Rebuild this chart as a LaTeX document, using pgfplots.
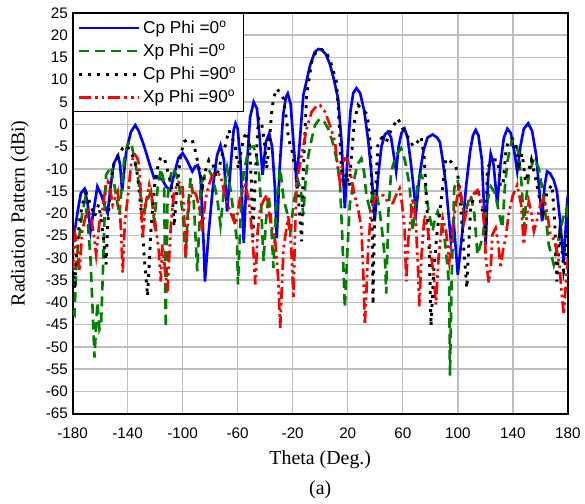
\documentclass[border=0pt]{standalone}
\usepackage{fontspec}
\setmainfont{Liberation Serif}
\newfontfamily\arial{Liberation Sans}
\usepackage{pgfplots}
\pgfplotsset{compat=1.18}
\definecolor{xgreen}{RGB}{0,128,0}
\begin{document}
\begin{tikzpicture}
\begin{axis}[
  name=ax,
  scale only axis,
  width=373.5pt, height=302.25pt,
  xmin=-180, xmax=180, ymin=-65, ymax=25,
  xtick={-180,-140,...,180},
  ytick={-65,-60,...,25},
  grid=major,
  major grid style={color=black!25, line width=1.1pt},
  tick style={draw=none},
  axis line style={line width=1.6pt},
  ticklabel style={font=\arial\fontsize{11.5}{12}\selectfont},
  xticklabel style={yshift=-7pt},
  /pgf/number format/assume math mode=true,
  xlabel={Theta (Deg.)},
  ylabel={Radiation Pattern (dBi)},
  label style={font=\fontsize{15}{16}\selectfont},
  xlabel style={at={(axis description cs:0.5,-0.116)}, anchor=center},
  ylabel style={at={(axis description cs:-0.1064,0.5)}, anchor=center},
  legend style={at={(0,1)}, anchor=north west, draw=black, line width=0.9pt,
    font=\arial\fontsize{13}{14}\selectfont, cells={anchor=west},
    row sep=2.5pt, inner sep=3.5pt},
  legend image code/.code={\draw[#1] (0pt,0pt) -- (45pt,0pt);},
  extra description/.code={\node[font=\fontsize{15}{16}\selectfont] at (0.5,-0.19) {(a)};},
]
% Cp Phi = 0
\addplot[blue, line width=2pt] coordinates {
(-180,-27) (-178.5,-24) (-176,-19) (-174,-15.5) (-171.3,-14.5) (-169,-18) (-167,-24)
(-165,-20) (-162,-14) (-159,-16) (-157,-18) (-154.5,-20) (-152,-13) (-150,-8.8)
(-147,-7) (-145.5,-9) (-144,-15) (-141,-6) (-137.6,-1.7) (-134.4,-0.2) (-132,-1.5)
(-129,-4) (-126.7,-6.2) (-124,-9) (-120.7,-12.1) (-117,-12) (-114.7,-12.5) (-112,-14)
(-109,-14.8) (-106,-11) (-103,-7.5) (-100,-6.5) (-97,-8) (-93,-10.6) (-91,-9.5)
(-89,-9.2) (-87,-12) (-85,-25) (-83.8,-35.3) (-81,-24) (-78,-14) (-75,-7) (-72.5,-4.7)
(-70,-8) (-67.7,-19.6) (-65,-9) (-63,-1.5) (-61.6,0.2) (-60,-1) (-58,-8) (-55.6,-26.7)
(-53,-8) (-51,1.5) (-48.4,5.0) (-46,3.5) (-44,-3) (-41.9,-11.4) (-39.5,-4) (-37.1,-2.1)
(-35,-5) (-33,-14) (-31.6,-25.6) (-29.5,-10) (-27,2) (-25,6) (-23.6,6.9) (-21.5,4.5)
(-19.5,-4) (-17.5,-11.8) (-16,-8.4) (-12.3,6.5) (-7.4,13.2) (-4,16.2) (-1.4,16.9)
(1,16.7) (4,15.8) (7,13.5) (10,10) (13,5.7) (15.5,-4) (17.9,-18.9) (20,-6) (22,3)
(24,7) (26.3,8.1) (29,7) (32,3) (35,-4) (37.5,-12) (39.6,-21.8) (42,-12) (44.5,-5)
(47,-2.3) (49.2,-1.7) (51.5,-3) (53.5,-7) (55.2,-10.6) (57,-5) (59,-2) (61.3,-1.0)
(63.5,-3) (66,-9) (69.7,-19.6) (72,-12) (75,-6) (78,-3) (81.7,-2.3) (85,-3) (87,-4)
(89,-8) (91.5,-14) (95,-26.3) (97,-22) (100,-33.8) (103,-25) (106,-14) (109,-6)
(111,-2.5) (113,-1.3) (115,-2.5) (117.5,-8) (120.3,-27) (122,-12) (123.9,-6.6)
(126,-9) (128.7,-18) (131,-9) (133.5,-3) (136,-1.0) (138.5,-2) (141,-6) (143.2,-10.6)
(145.5,-5) (148,-1) (151.2,0.2) (154,-1.5) (157,-7) (159,-14) (161.3,-21.8) (163,-14)
(164.9,-10.6) (167,-11) (169.7,-12.5) (172,-15) (174.5,-22) (177,-31.2) (179.4,-18)
(180,-16)
};
% Xp Phi = 0
\addplot[xgreen, line width=2pt, dash pattern=on 7.5pt off 4.5pt] coordinates {
(-180,-42) (-178.6,-42.7) (-177,-30) (-175,-24.8) (-173,-20) (-171,-17) (-169,-22)
(-167,-30) (-165.3,-42.7) (-164.1,-52.4) (-162,-40) (-160.5,-46) (-159.3,-45)
(-158.1,-34.5) (-156.5,-18) (-155.7,-11.4) (-152,-9.5) (-148.4,-15.9) (-146,-20.4)
(-144,-13) (-142.4,-7.7) (-140,-4.5) (-137.6,-3.9) (-135.5,-7) (-133,-11) (-130.3,-16.6)
(-127.9,-19.6) (-125.5,-17) (-123.1,-15.1) (-120.7,-21.8) (-118,-14) (-115.9,-9.9)
(-113.5,-13) (-112.3,-45.7) (-111,-16.6) (-109,-12) (-107.5,-9.9) (-105,-11)
(-102.6,-13.6) (-100,-20) (-97.8,-30) (-96,-18) (-94.2,-12.1) (-92,-17) (-89.4,-33)
(-87.5,-20) (-86.9,-13.6) (-84,-11.5) (-80.9,-10.3) (-78,-12) (-74.9,-16.6)
(-72.5,-22.6) (-70,-15) (-67.7,-9.9) (-65.5,-14) (-63,-20) (-60.5,-26.3) (-59.8,-36)
(-57.5,-18) (-55.6,-10.6) (-53,-7) (-50.8,-5.1) (-48.5,-5) (-46.5,-7) (-44.8,-9.9)
(-43,-18) (-41.2,-30.8) (-39.5,-22) (-37.6,-15.9) (-36,-20) (-34,-32.3) (-32,-18)
(-29.1,-9.9) (-26.7,-16.6) (-24,-20) (-21.9,-24.8) (-19,-17) (-15.9,-12.9) (-14,-15)
(-12.3,-20.4) (-10.5,-12) (-8.6,-6.9) (-6,-3) (-3.8,-0.2) (-0.2,1.3) (3,0.5) (5.8,-1)
(9,-4) (11.8,-7.7) (14.3,-12.9) (16,-25) (17.9,-41.2) (19.5,-30) (21.5,-18)
(23.9,-13.6) (27,-9) (29.9,-7.7) (32,-11) (33.5,-15.9) (35.9,-18.9) (38,-16)
(40.8,-15.1) (43,-19) (45,-24) (47,-30) (48,-38) (49.5,-20) (51.6,-10.6) (55,-7)
(58.8,-5.4) (61.5,-8) (64.9,-13.6) (67.3,-24) (69,-18) (71,-13) (73.3,-11.4) (76,-13)
(78.5,-19) (81.7,-24) (83.5,-21) (85.4,-19.6) (88,-22) (90.5,-26) (92.5,-32)
(93.8,-36.8) (94.3,-56.5) (95.5,-35) (97.4,-14.4) (99.8,-12.5) (102,-16) (104.7,-21.1)
(107,-18) (109.4,-15.9) (112,-20) (114.3,-29.3) (117.9,-25.6) (121.5,-17.4) (124,-14)
(126.4,-15.1) (127.5,-15.9) (130,-20) (132.4,-23.3) (134,-15) (136,-8.4) (139.6,-3.2)
(142,-4) (144.4,-6.9) (146.5,-14) (148,-23.3) (150,-16) (151.6,-11.4) (155.3,-7.7)
(158.9,-9.9) (162.5,-16.6) (166.1,-27) (169.7,-31.5) (173.4,-25.6) (177,-20.4)
(179,-19) (180,-21)
};
% Cp Phi = 90
\addplot[black, line width=2.2pt, dash pattern=on 2.2pt off 4.6pt] coordinates {
(-180,-30) (-178.5,-37) (-177,-28) (-175,-22) (-173,-18) (-170,-15.5) (-167,-18)
(-164,-20.7) (-161,-18) (-159,-22) (-157,-27) (-155.7,-31.5) (-154.5,-22.6) (-152,-12.1)
(-150,-9) (-147,-7) (-143.6,-5.4) (-141,-4.7) (-138,-6) (-135,-8) (-132.8,-11.4)
(-130,-20) (-127.9,-30) (-125.5,-38.6) (-123.1,-24) (-120.5,-14) (-118.3,-9.9)
(-115.9,-7.3) (-113,-8) (-110.5,-11) (-108,-14) (-106.2,-23) (-104,-14) (-101.5,-7)
(-99,-3.9) (-96,-3.4) (-93,-3.6) (-90.6,-6.2) (-88,-10) (-85.5,-14) (-83,-10)
(-80.9,-8) (-78,-9) (-75.5,-12) (-73,-9) (-70.5,-6) (-68.9,-4.7) (-66.5,-1.3) (-64,-3)
(-61.6,-5.4) (-59.5,-10) (-57.5,-6) (-55.5,-3) (-53.2,-1.7) (-51.5,-4.5) (-50,-13)
(-49,-26) (-47.5,-14) (-46,-4) (-44.8,1.3) (-42.5,0) (-40.5,-4) (-39,-10) (-37.5,-6)
(-35.5,2) (-34,5.7) (-31.6,8.0) (-29,7) (-26.7,5.7) (-24.5,1) (-23.1,-3.2) (-20.5,-6)
(-18.3,-9.9) (-16,-16) (-13.5,-26.3) (-12.3,-10.6) (-9.9,6.5) (-6.2,14) (-2.6,16.6)
(1,16.8) (4.6,16.2) (8,13.5) (11.8,9.5) (13.5,2) (15.4,-9.9) (17,-14) (19,-11) (21,-14)
(23,-6) (25,1) (27.5,4.3) (30,3.5) (33.5,2.4) (34.8,0.5) (36.5,-5) (37.5,-15)
(38.4,-40.5) (39.5,-20) (42,-3.9) (45,-3) (48,-4) (50.5,-2) (52.8,-0.6) (56.4,1.3)
(60,-1) (62.5,-2.5) (64.9,-3.2) (67.5,-5) (70.9,-3.9) (73.3,-2.8) (75.5,-7) (77.5,-18)
(79.4,-29.3) (80.5,-45.3) (82.5,-33) (85,-24) (87.8,-17.4) (91.4,-7.7) (95,-8.4)
(97.5,-9) (99.8,-10.6) (102,-18) (104.7,-29.3) (106.6,-36.8) (108,-27) (109.4,-18.9)
(112,-16) (114.3,-14.4) (117,-18) (120.3,-23.3) (121.5,-9.9) (124,-8.5) (126.4,-8)
(129,-8) (131,-14) (133,-13) (135,-6) (137,-3.5) (139.6,-3.2) (142,-5) (144.5,-9)
(146.8,-6.6) (149.2,-12.9) (151,-11) (153.5,-8) (156.5,-12.1) (159,-16) (162,-20)
(165,-15) (168.5,-13.6) (170.5,-22) (172,-35.3) (174,-25) (176,-29) (177,-33)
(179,-30) (180,-24)
};
% Xp Phi = 90
\addplot[red, line width=2pt, dash pattern=on 9pt off 3pt on 2pt off 3pt on 2pt off 3pt] coordinates {
(-180,-33) (-178,-25) (-176.2,-28.5) (-175,-33) (-173,-24) (-170.1,-20) (-168,-19)
(-166.5,-21.1) (-164.5,-25) (-162.9,-29.3) (-160.5,-22) (-158.1,-18.9) (-156,-14)
(-154.5,-12.9) (-152.5,-15) (-150.9,-18.1) (-147.2,-15.1) (-145.5,-20) (-144.8,-24)
(-143.6,-33.4) (-142,-22) (-140,-16.6) (-137.5,-9) (-135.2,-6.6) (-133,-7.5)
(-131.6,-9.2) (-130.3,-16.6) (-129.2,-25.6) (-127,-18) (-124.3,-13.6) (-122,-17)
(-119.5,-23.3) (-117.5,-28) (-115.9,-35.3) (-114.7,-27) (-113,-32) (-111,-37.5)
(-108.6,-22.6) (-106.2,-15.1) (-103,-13) (-100.2,-13.6) (-99,-20) (-97.8,-30)
(-95.5,-18) (-93,-14.4) (-90,-16) (-86.9,-20.4) (-85.8,-24) (-83.5,-17) (-80.9,-13.6)
(-78.5,-11.5) (-76,-11) (-72.5,-11.4) (-68.9,-16.6) (-65,-20) (-61.6,-22.6) (-58,-16)
(-54.4,-13.6) (-52,-17) (-49.6,-24) (-48.3,-30) (-47.2,-36) (-45.5,-24) (-43.6,-18.9)
(-41,-17) (-38.8,-15.9) (-36.3,-21.8) (-32.7,-26.3) (-30.5,-35) (-29.1,-45.7)
(-27.8,-36) (-26.7,-27.8) (-23.1,-20.4) (-21,-28) (-19.5,-39) (-18.3,-24) (-17.1,-12.9)
(-13.5,-6.9) (-9.9,-1) (-6.2,2.8) (-3,4) (-0.2,4.3) (3.5,2.8) (7,-0.2) (10.7,-3.9)
(12.5,-9) (14.3,-12.9) (16,-9) (17.9,-7.7) (20,-8) (22,-11) (25,-16) (27.5,-19)
(29.9,-23.3) (31.5,-35) (32.4,-45) (34,-35) (34.8,-27.8) (37.1,-18.9) (40,-16.5)
(43.2,-15.9) (46,-16) (49.2,-17.4) (52.8,-17.7) (55,-16) (57.7,-14.4) (59.5,-18)
(61.3,-23.3) (62.5,-35.3) (64,-26) (67.3,-16.6) (69.5,-22) (71,-32) (72.1,-40.9)
(73.5,-30) (75.8,-20.4) (78,-23) (80.5,-29.3) (82.5,-34) (84.1,-40.5) (86,-30)
(89,-21.1) (91.5,-24) (93.8,-30.8) (96,-24) (98.6,-18.1) (101.1,-13.6) (103,-17)
(104.7,-21.8) (107.5,-18) (110.7,-15.9) (114.3,-14.8) (117.9,-18.1) (119.5,-24)
(120.3,-30) (122.5,-35.6) (124,-32) (125.1,-24.8) (127.5,-23.3) (129.5,-27)
(131.1,-32.3) (133,-28) (134.8,-25.6) (137,-20) (140,-16) (143.2,-13.6) (146,-18)
(148,-27) (150,-21) (151.6,-17.4) (153.5,-20) (155.3,-24) (158,-21) (160,-18)
(162.5,-16.6) (165,-20) (167.3,-24.8) (170,-26) (172.1,-28.5) (174,-32) (175.5,-38)
(177,-42.7) (178.5,-36) (180,-30)
};
\legend{Cp Phi =0\textsuperscript{o}, Xp Phi =0\textsuperscript{o}, Cp Phi =90\textsuperscript{o}, Xp Phi =90\textsuperscript{o}}
\end{axis}
\path (ax.south west) ++(-54.75pt,-64.5pt) rectangle ([shift={(10.5pt,9.75pt)}]ax.north east);
\end{tikzpicture}
\end{document}
